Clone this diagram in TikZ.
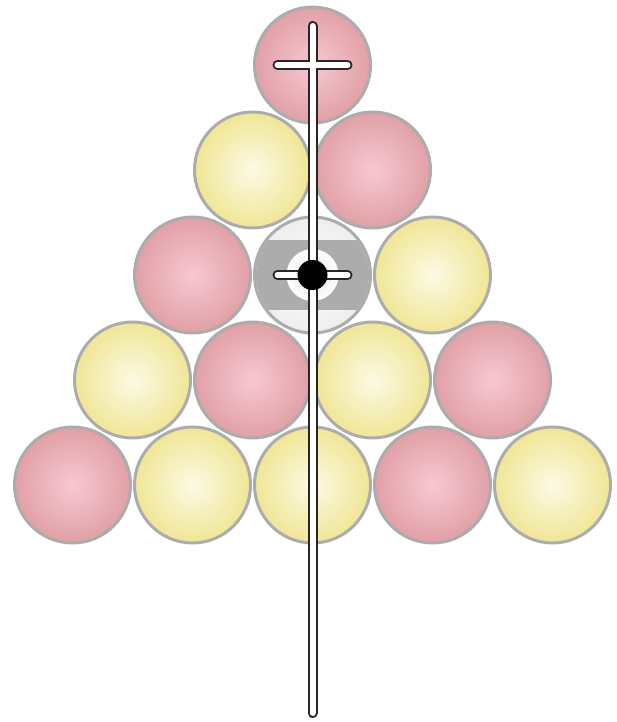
\documentclass[tikz,border=0pt]{standalone}
\usepackage{tikz}
\usetikzlibrary{positioning}
\definecolor{pinkin}{RGB}{247,200,210}
\definecolor{pinkout}{RGB}{225,160,166}
\definecolor{yellin}{RGB}{252,250,228}
\definecolor{yellout}{RGB}{240,230,150}
\definecolor{rimgray}{RGB}{172,172,172}
\definecolor{bandgray}{RGB}{172,172,172}

\begin{document}
\begin{tikzpicture}[
  x=0.02cm, y=-0.02cm,
  ball/.style={circle, draw=rimgray, line width=0.06cm, minimum size=2.32cm, inner sep=0pt},
  redball/.style={ball, inner color=pinkin, outer color=pinkout},
  yellowball/.style={ball, inner color=yellin, outer color=yellout},
  cueedge/.style={draw=black!85, line width=0.2cm, line cap=round},
  cuecore/.style={draw=white, line width=0.12cm, line cap=round},
]
  \useasboundingbox (0,0) rectangle (617,722);

  % Row 1
  \node[redball] (b11) at (312.5,65) {};

  % Row 2
  \node[yellowball] (b21) at (252.5,170) {};
  \node[redball] (b22) at (372.5,170) {};

  % Row 3 (middle ball)
  \node[redball] (b31) at (192.5,275) {};
  \node[ball, inner color=white, outer color=gray!14] (b32) at (312.5,275) {};
  \node[yellowball] (b33) at (432.5,275) {};

  % Row 4
  \node[yellowball] (b41) at (132.5,380) {};
  \node[redball] (b42) at (252.5,380) {};
  \node[yellowball] (b43) at (372.5,380) {};
  \node[redball] (b44) at (492.5,380) {};

  % Row 5
  \node[redball] (b51) at (72.5,485) {};
  \node[yellowball] (b52) at (192.5,485) {};
  \node[yellowball] (b53) at (312.5,485) {};
  \node[redball] (b54) at (432.5,485) {};
  \node[yellowball] (b55) at (552.5,485) {};

  % Stripe of the middle ball
  \begin{scope}
    \clip (b32.center) circle (56.5);
    \fill[bandgray] (b32.center) ++(-60,-35) rectangle ++(120,70);
  \end{scope}
  \shade[inner color=gray!22, outer color=white] (b32.center) circle (26);

  % Cue line with the two crosses
  \coordinate (cuetop) at (312.5,26);
  \coordinate (cueend) at (312.5,713);
  \draw[cueedge] (cuetop) -- (cueend);
  \draw[cueedge] (b11.center) ++(-35,0) -- ++(70,0);
  \draw[cueedge] (b32.center) ++(-35,0) -- ++(70,0);
  \draw[cuecore] (cuetop) -- (cueend);
  \draw[cuecore] (b11.center) ++(-35,0) -- ++(70,0);
  \draw[cuecore] (b32.center) ++(-35,0) -- ++(70,0);

  % Black dot
  \fill[black] (b32.center) circle (15);

\end{tikzpicture}
\end{document}
